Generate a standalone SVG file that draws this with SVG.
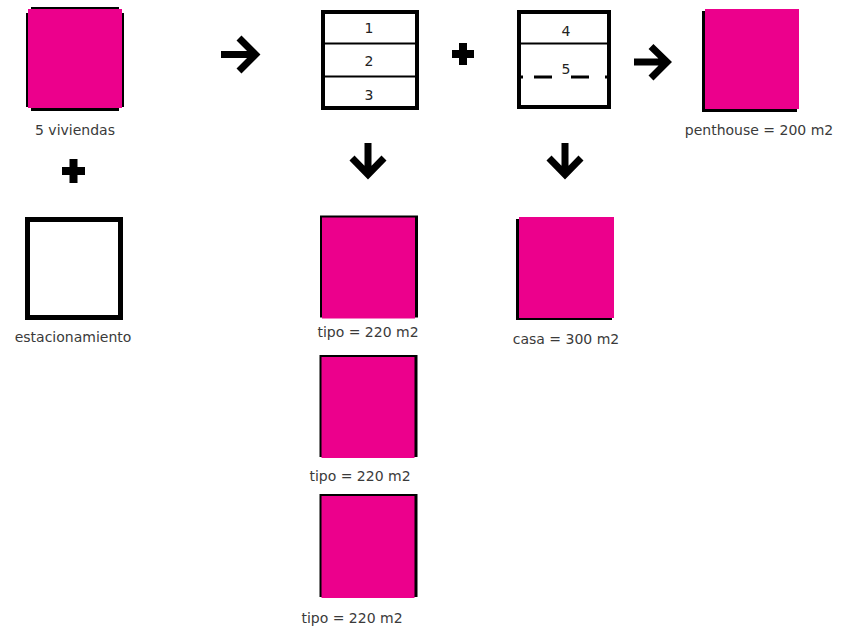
<svg xmlns="http://www.w3.org/2000/svg" width="842" height="629" viewBox="0 0 842 629">
<style>
.pk{fill:#EC008C}
.bk{fill:#000}
.lbl{font-family:"DejaVu Sans","Liberation Sans",sans-serif;font-size:14px;fill:#3a3a3a;text-anchor:middle}
.num{font-family:"DejaVu Sans","Liberation Sans",sans-serif;font-size:14px;fill:#222;text-anchor:middle}
.frame{fill:#fff;stroke:#000;stroke-width:4}
.arr{fill:none;stroke:#000;stroke-width:7;stroke-linejoin:miter}
</style>
<rect width="842" height="629" fill="#fff"/>
<g id="viviendas">
<rect class="bk" x="31" y="7" width="88" height="104"/>
<rect class="bk" x="26" y="13" width="98" height="94"/>
<rect class="pk" x="28" y="9" width="94" height="99"/>
<text class="lbl" x="75" y="135">5 viviendas</text>
</g>
<g id="plus1">
<rect class="bk" x="62" y="167" width="23" height="8"/>
<rect class="bk" x="69.5" y="159" width="8" height="24"/>
</g>
<g id="estacionamiento">
<rect x="27.5" y="219.5" width="93" height="98" fill="#fff" stroke="#000" stroke-width="5"/>
<text class="lbl" x="73" y="342">estacionamiento</text>
</g>
<g id="pisos123">
<rect class="frame" x="323" y="12" width="94" height="96"/>
<line x1="323" y1="43.5" x2="417" y2="43.5" stroke="#000" stroke-width="2"/>
<line x1="323" y1="76.5" x2="417" y2="76.5" stroke="#000" stroke-width="2"/>
<text class="num" x="369" y="33">1</text>
<text class="num" x="369" y="66">2</text>
<text class="num" x="369" y="100">3</text>
</g>
<g id="plus2">
<rect class="bk" x="452" y="50" width="22" height="8"/>
<rect class="bk" x="459" y="43" width="8" height="22"/>
</g>
<g id="pisos45">
<rect class="frame" x="519" y="12" width="90" height="95"/>
<line x1="519" y1="43.5" x2="609" y2="43.5" stroke="#000" stroke-width="2"/>
<path d="M519,77H523M534,77H552M571,77H589M605,77H611" stroke="#000" stroke-width="3"/>
<text class="num" x="566" y="36">4</text>
<text class="num" x="566" y="74">5</text>
</g>
<g id="penthouse">
<rect class="bk" x="702" y="11" width="95" height="101"/>
<rect class="pk" x="705" y="9" width="94" height="100"/>
<text class="lbl" x="759" y="135">penthouse = 200 m2</text>
</g>
<g id="tipo1">
<rect class="bk" x="320" y="215.5" width="98" height="102"/>
<rect class="pk" x="322" y="217.5" width="93" height="101"/>
<text class="lbl" x="368" y="337">tipo = 220 m2</text>
</g>
<g id="tipo2">
<rect class="bk" x="319.5" y="355" width="98" height="102"/>
<rect class="pk" x="321.5" y="357" width="93" height="101"/>
<text class="lbl" x="360" y="481">tipo = 220 m2</text>
</g>
<g id="tipo3">
<rect class="bk" x="319.5" y="494" width="98" height="103"/>
<rect class="pk" x="321.5" y="496" width="93" height="102"/>
<text class="lbl" x="352" y="623">tipo = 220 m2</text>
</g>
<g id="casa">
<rect class="bk" x="516" y="219" width="96" height="101"/>
<rect class="pk" x="519" y="217" width="95" height="101"/>
<text class="lbl" x="566" y="344">casa = 300 m2</text>
</g>
<g id="connectors">
<path class="arr" d="M221,54.5H254M239,38L255.5,54.5L239,71"/>
<path class="arr" d="M634,62H666M651,46.5L667,62L651,78"/>
<path class="arr" d="M368,143V176M352,158L368,174.5L384,158"/>
<path class="arr" d="M565,143V176M549,158L565,174.5L581,158"/>
</g>
</svg>
